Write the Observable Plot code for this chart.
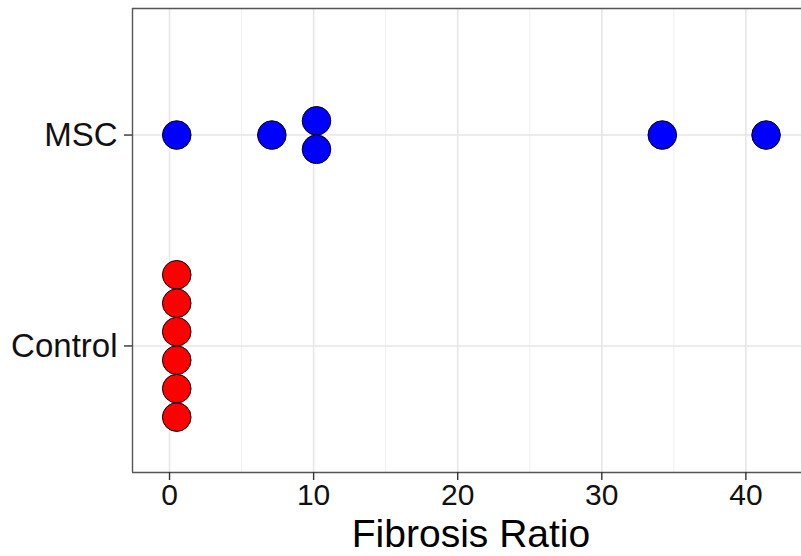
<!DOCTYPE html>
<html>
<head>
<meta charset="utf-8">
<script src="https://cdn.jsdelivr.net/npm/d3@7"></script>
<script src="https://cdn.jsdelivr.net/npm/@observablehq/plot@0.6"></script>
<style>
  html, body { margin: 0; padding: 0; background: #fff; }
  #chart svg { display: block; }
</style>
</head>
<body>
<div id="chart"></div>
<script>
// ---- data ----
const groups = ["Control", "MSC"];
const controlValues = [0.5, 0.5, 0.5, 0.5, 0.5, 0.5];
const mscValues = [0.5, 7.1, 10.2, 10.2, 34.2, 41.4];
const groupColors = ["#ff0000", "#0000ff"];
const xTicks = [0, 10, 20, 30, 40];
const xMinorTicks = [5, 15, 25, 35];
const xLabel = "Fibrosis Ratio";

// ---- build stacked dot table (centered stacks like geom_dotplot) ----
const stackStep = 0.135; // vertical spacing between stacked dots, in category units
function stackRows(values, gi) {
  const counts = d3.rollup(values, v => v.length, v => v);
  const seen = new Map();
  return values.map(v => {
    const n = counts.get(v);
    const i = seen.get(v) || 0;
    seen.set(v, i + 1);
    return { group: groups[gi], value: v, y: gi + 1 + ((n - 1) / 2 - i) * stackStep, color: groupColors[gi] };
  });
}
const rows = [...stackRows(controlValues, 0), ...stackRows(mscValues, 1)];

const xDomain = [-2.57, 43.86];
const yDomain = [0.4, 2.6];
const W = 801, H = 556;
const chart = Plot.plot({
  width: W,
  height: H,
  marginLeft: 132,
  marginRight: 0,
  marginTop: 8,
  marginBottom: 84,
  style: { fontFamily: "'Liberation Sans', Arial, sans-serif", background: "#fff", color: "#000" },
  x: { domain: xDomain },
  y: { domain: yDomain },
  marks: [
    Plot.gridX(xMinorTicks, { stroke: "#f0f0f0", strokeOpacity: 1, strokeWidth: 1 }),
    Plot.gridX(xTicks, { stroke: "#e6e6e6", strokeOpacity: 1, strokeWidth: 1.6 }),
    Plot.gridY([1, 2], { stroke: "#e6e6e6", strokeOpacity: 1, strokeWidth: 1.6 }),
    // panel border (right side falls outside the picture)
    Plot.ruleY(yDomain, { stroke: "#555", strokeWidth: 1.4 }),
    Plot.ruleX([xDomain[0]], { stroke: "#555", strokeWidth: 1.4 }),
    Plot.axisX(xTicks, {
      tickSize: 8, tickPadding: 3.5, fontSize: 30, stroke: "#333", strokeWidth: 1.4,
      label: null, fill: "#111"
    }),
    Plot.axisY([1, 2], {
      tickSize: 8, tickPadding: 7, fontSize: 33, stroke: "#333", strokeWidth: 1.4,
      tickFormat: d => groups[d - 1], label: null, fill: "#111"
    }),
    Plot.text([xLabel], {
      frameAnchor: "bottom", text: d => d, fontSize: 39, lineAnchor: "middle",
      dy: 62.3, dx: 4, fill: "#000"
    }),
    Plot.dot(rows, {
      x: "value", y: "y", r: 14.3, fill: "color", stroke: "#000", strokeWidth: 1
    })
  ]
});
document.getElementById("chart").appendChild(chart);
</script>
</body>
</html>
